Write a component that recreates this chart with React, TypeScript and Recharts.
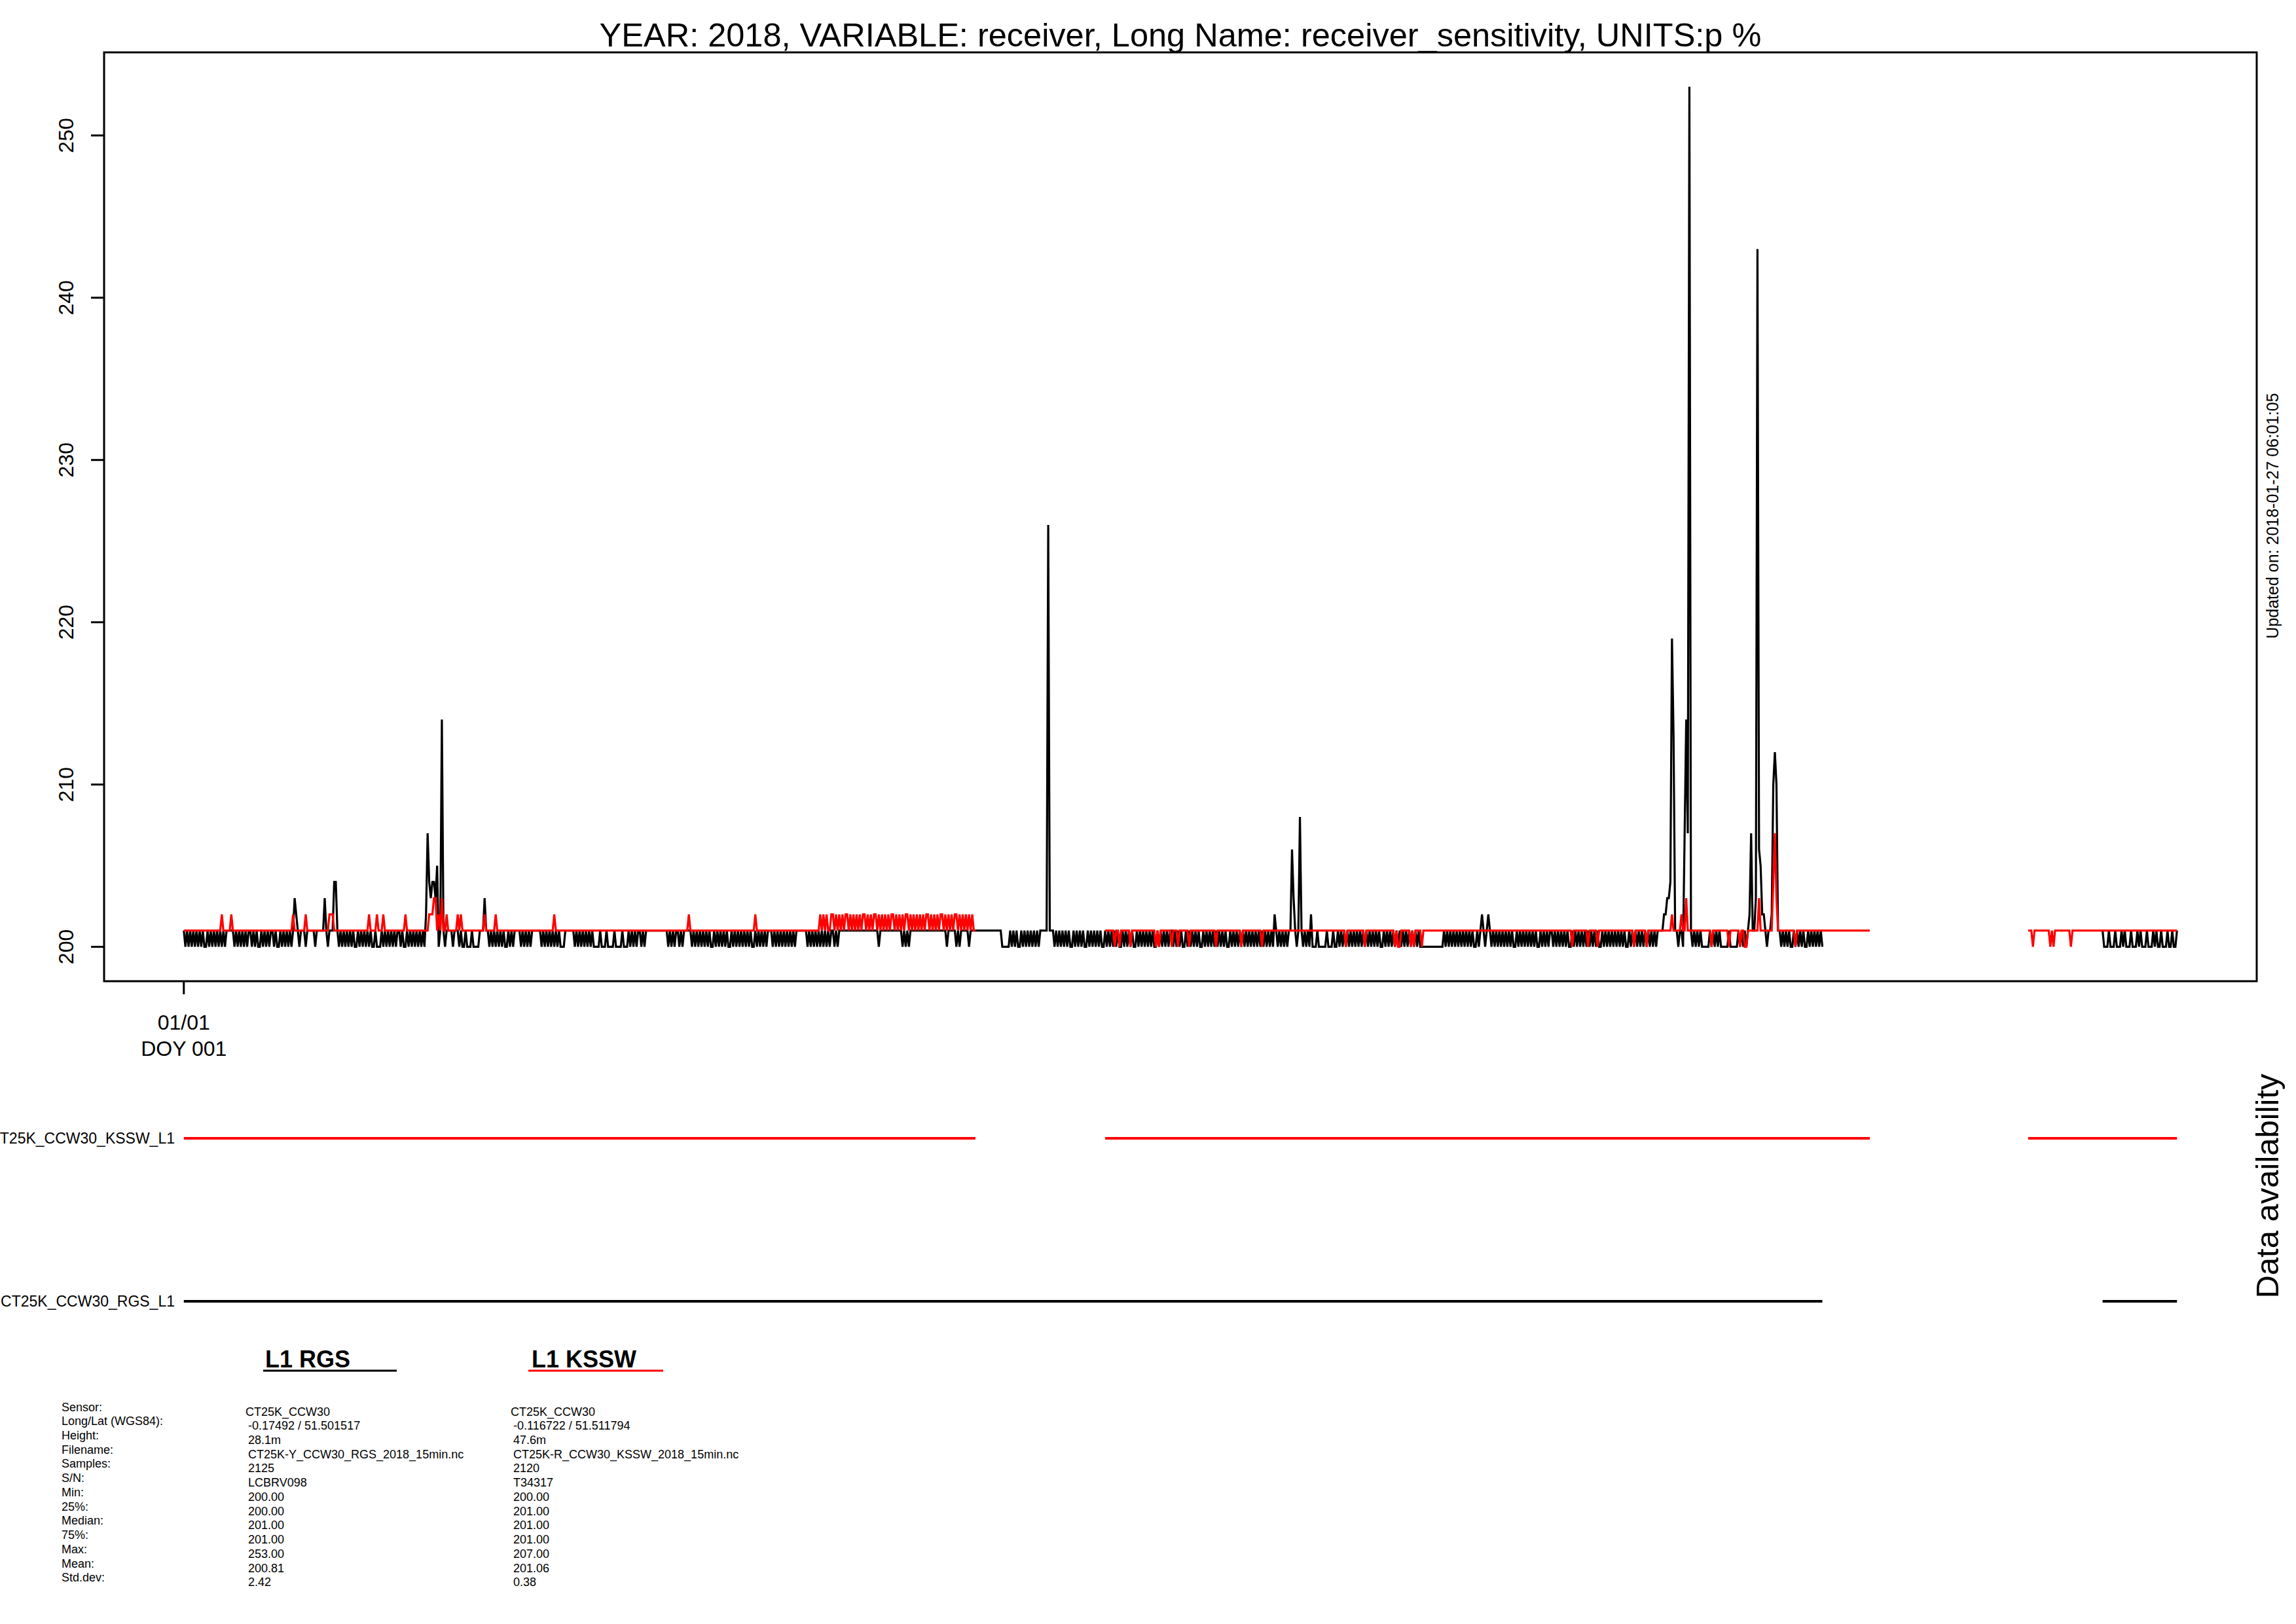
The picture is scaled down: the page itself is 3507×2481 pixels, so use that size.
import { Line, LineChart, ReferenceArea, XAxis, YAxis } from "recharts";

const FONT = "'Liberation Sans', Arial, Helvetica, sans-serif";
const SLOTS_PER_DAY = 48;

// half-hourly readings, one string per day from 01/01.
// digit = value - 200, (nn) = 200 + nn, "." = no data
const rgsDays = [
	"10101010 10101001 01010101 01011111 01010101 01101010",
	"01010101 10100101 01010132 10111011 11101111 13101114",
	"41010101 01010010 10101010 01000101 01010101 10100101",
	"01010101 02743443 501(14)1011 11011101 00100010 00011131",
	"10101010 10100101 01111010 10101111 11010101 01010100",
	"01111110 10101010 10100001 00010000 10000100 01010101",
	"10101111 11111111 11010101 10101111 10101010 10101001",
	"01010101 00101010 10101010 01010101 01110101 01010101",
	"01011111 11010101 01010101 01101011 11111111 11111111",
	"11111110 11111111 11111101 01011111 11111111 11111111",
	"11011111 01011111 01111111 11111111 11111000 00101010",
	"01010101 01010111 11(26)11101 01010101 00101010 10010101",
	"01010010 10101010 01010101 00101010 10101001 01010101",
	"10101010 01010101 01001010 10101010 10100101 01010101",
	"01010101 01010101 02101010 10116310 18101010 20001000",
	"00100010 01010101 01010101 01010101 01010010 10101010",
	"10101010 10101000 00000000 00001010 10101010 10101010",
	"01012101 21010101 01010101 00101010 10101010 01010101",
	"10101010 10100101 01010101 01010100 10101010 10101010",
	"01010101 01010101 01011112 2334(19)(13)11 01107(14)7(53) 10101010",
	"00001010 10100000 10000010 10101271 13(43)65221 0112(10)(12)(10)1",
	"10101010 01010101 00101010 1010.... ........ ........",
	"........ ........ ........ ........ ........ ........",
	"........ ........ ........ ........ ........ ........",
	"........ ........ ........ ........ ........ ........",
	"........ ....1000 10001000 10100010 00101000 10001010",
	"01000100 1001",
];

const ksswDays = [
	"11111111 11111111 11111111 21111121 11111111 11111111",
	"11111111 11111111 11111211 11111211 11111111 11112221",
	"11111111 11111111 11111211 11211121 11111111 11112111",
	"11111111 11122233 12131121 11111212 11111111 11111121",
	"11111211 11111111 11111111 11111111 11111111 11211111",
	"11111111 11111111 11111111 11111111 11111111 11111111",
	"11111111 11111111 11111111 11111112 11111111 11111111",
	"11111111 11111111 11111111 12111111 11111111 11111111",
	"11111111 11111111 11212121 12212121 21221212 12121221",
	"21212212 12121212 21212121 22121212 12121221 21212122",
	"12121212 21212121 21211... ........ ........ ........",
	"........ ........ ........ ........ ........ ........",
	"......11 11110110 11111101 11111111 11111101 01111111",
	"01110111 11101111 11111111 11110111 11111111 11110111",
	"11111111 10111111 11111111 11111111 11111111 11111111",
	"11111111 11111101 11111111 11011111 11111111 11111010",
	"01111110 10111101 11111111 11111111 11111111 11111111",
	"11111111 11111111 11111111 11111111 11111111 11111111",
	"11111111 11111011 11111110 11111011 11111111 11111111",
	"11110111 11110111 11111111 11112111 11211311 11111111",
	"11111011 11111111 01111110 11001111 11131111 11114731",
	"11111111 11011111 11111111 11111111 11111111 11111111",
	"11111111 11...... ........ ........ ........ ........",
	"........ ........ ........ ........ ........ ........",
	"........ .....111 01111111 11101011 11111111 01111111",
	"11111111 11111111 11111111 11111111 11111111 11111111",
	"11111111 1111",
];

const yTicks = [200, 210, 220, 230, 240, 250];
const xTicks = [0];
const xTickLabels = ["01/01", "DOY 001"];

const statLabels = [
	"Sensor:",
	"Long/Lat (WGS84):",
	"Height:",
	"Filename:",
	"Samples:",
	"S/N:",
	"Min:",
	"25%:",
	"Median:",
	"75%:",
	"Max:",
	"Mean:",
	"Std.dev:",
];
const rgsStats = [
	"CT25K_CCW30",
	"-0.17492 / 51.501517",
	"28.1m",
	"CT25K-Y_CCW30_RGS_2018_15min.nc",
	"2125",
	"LCBRV098",
	"200.00",
	"200.00",
	"201.00",
	"201.00",
	"253.00",
	"200.81",
	"2.42",
];
const ksswStats = [
	"CT25K_CCW30",
	"-0.116722 / 51.511794",
	"47.6m",
	"CT25K-R_CCW30_KSSW_2018_15min.nc",
	"2120",
	"T34317",
	"200.00",
	"201.00",
	"201.00",
	"201.00",
	"207.00",
	"201.06",
	"0.38",
];

const readDay = (s: string): (number | null)[] =>
	(s.match(/\(\d+\)|[0-9.]/g) ?? []).map((tok) =>
		tok === "." ? null : 200 + Number(tok.replace(/[()]/g, "")),
	);

type Row = {
	t: number;
	rgs: number | null;
	kssw: number | null;
	rgsOn: number | null;
	ksswOn: number | null;
};

const rows: Row[] = [];
rgsDays.forEach((day, d) => {
	const a = readDay(day);
	const b = readDay(ksswDays[d] ?? "");
	const n = Math.max(a.length, b.length);
	for (let k = 0; k < n; k++) {
		const rgs = a[k] ?? null;
		const kssw = b[k] ?? null;
		rows.push({
			t: d + k / SLOTS_PER_DAY,
			rgs,
			kssw,
			rgsOn: rgs === null ? null : 0,
			ksswOn: kssw === null ? null : 1,
		});
	}
});

// R style 4% padding around the data range
const pad = (lo: number, hi: number): [number, number] => [
	lo - 0.04 * (hi - lo),
	hi + 0.04 * (hi - lo),
];
const allVals = rows
	.flatMap((r) => [r.rgs, r.kssw])
	.filter((v): v is number => v !== null);
const xDomain = pad(rows[0].t, rows[rows.length - 1].t);
const yDomain = pad(Math.min(...allVals), Math.max(...allVals));

// biome-ignore lint/suspicious/noExplicitAny: <recharts tick props>
const YTick = ({ x, y, payload }: any) => (
	<text
		x={x}
		y={y}
		transform={`rotate(-90, ${x}, ${y})`}
		textAnchor="middle"
		fontSize={32}
		fontFamily={FONT}
		fill="#000"
	>
		{payload.value}
	</text>
);

// biome-ignore lint/suspicious/noExplicitAny: <recharts tick props>
const XTick = ({ x, y }: any) => (
	<text textAnchor="middle" fontSize={32} fontFamily={FONT} fill="#000">
		<tspan x={x} y={y + 54}>
			{xTickLabels[0]}
		</tspan>
		<tspan x={x} y={y + 94}>
			{xTickLabels[1]}
		</tspan>
	</text>
);

const Overlay = () => (
	<svg
		width={3507}
		height={2481}
		style={{ position: "absolute", left: 0, top: 0, pointerEvents: "none" }}
		fontFamily={FONT}
	>
		<text x={1803} y={71} textAnchor="middle" fontSize={50.5}>
			YEAR: 2018, VARIABLE: receiver, Long Name: receiver_sensitivity,
			UNITS:p %
		</text>
		<text
			x={3480}
			y={788}
			textAnchor="middle"
			fontSize={25}
			transform="rotate(-90, 3480, 788)"
		>
			Updated on: 2018-01-27 06:01:05
		</text>
		<text
			x={3480}
			y={1812}
			textAnchor="middle"
			fontSize={49}
			transform="rotate(-90, 3480, 1812)"
		>
			Data availability
		</text>
		<text x={267} y={1747} textAnchor="end" fontSize={23}>
			CT25K_CCW30_KSSW_L1
		</text>
		<text x={267} y={1996} textAnchor="end" fontSize={23}>
			CT25K_CCW30_RGS_L1
		</text>

		<text x={405} y={2089} fontSize={36} fontWeight="bold">
			L1 RGS
		</text>
		<line x1={402} x2={606} y1={2094} y2={2094} stroke="#000" strokeWidth={3} />
		<text x={812} y={2089} fontSize={36} fontWeight="bold">
			L1 KSSW
		</text>
		<line
			x1={807}
			x2={1013}
			y1={2094}
			y2={2094}
			stroke="#ff0000"
			strokeWidth={3}
		/>

		{statLabels.map((s, i) => (
			<text key={s} x={94} y={2155.5 + 21.73 * i} fontSize={18}>
				{s}
			</text>
		))}
		{rgsStats.map((s, i) => (
			<text key={`r${i}`} x={i === 0 ? 375 : 379} y={2162.5 + 21.73 * i} fontSize={18}>
				{s}
			</text>
		))}
		{ksswStats.map((s, i) => (
			<text key={`k${i}`} x={i === 0 ? 780 : 784} y={2162.5 + 21.73 * i} fontSize={18}>
				{s}
			</text>
		))}
	</svg>
);

export default function App() {
	return (
		<div
			style={{
				position: "absolute",
				left: 0,
				top: 0,
				width: 3507,
				height: 2481,
				background: "#fff",
				overflow: "hidden",
			}}
		>
			<div style={{ position: "absolute", left: 0, top: 0 }}>
				<LineChart
					width={3507}
					height={1700}
					data={rows}
					margin={{ top: 80, right: 60, left: 0, bottom: 51 }}
				>
					<XAxis
						type="number"
						dataKey="t"
						domain={xDomain}
						allowDataOverflow
						ticks={xTicks}
						height={150}
						tickSize={20}
						tickMargin={0}
						axisLine={false}
						tickLine={{ stroke: "#000", strokeWidth: 3 }}
						tick={<XTick />}
						interval={0}
					/>
					<YAxis
						type="number"
						domain={yDomain}
						allowDataOverflow
						ticks={yTicks}
						width={159}
						tickSize={20}
						tickMargin={27}
						axisLine={false}
						tickLine={{ stroke: "#000", strokeWidth: 3 }}
						tick={<YTick />}
						interval={0}
					/>
					<Line
						type="linear"
						dataKey="rgs"
						stroke="#000"
						strokeWidth={3.2}
						dot={false}
						activeDot={false}
						connectNulls={false}
						isAnimationActive={false}
					/>
					<Line
						type="linear"
						dataKey="kssw"
						stroke="#ff0000"
						strokeWidth={3.2}
						dot={false}
						activeDot={false}
						connectNulls={false}
						isAnimationActive={false}
					/>
					<ReferenceArea
						x1={xDomain[0]}
						x2={xDomain[1]}
						y1={yDomain[0]}
						y2={yDomain[1]}
						fill="none"
						stroke="#000"
						strokeWidth={3}
						ifOverflow="visible"
					/>
				</LineChart>
			</div>
			<div style={{ position: "absolute", left: 0, top: 1700 }}>
				<LineChart
					width={3507}
					height={330}
					data={rows}
					margin={{ top: 39, right: 60, left: 159, bottom: 42 }}
				>
					<XAxis
						type="number"
						dataKey="t"
						domain={xDomain}
						allowDataOverflow
						hide
						height={0}
					/>
					<YAxis type="number" domain={[0, 1]} hide width={0} />
					<Line
						type="linear"
						dataKey="ksswOn"
						stroke="#ff0000"
						strokeWidth={4}
						dot={false}
						activeDot={false}
						connectNulls={false}
						isAnimationActive={false}
					/>
					<Line
						type="linear"
						dataKey="rgsOn"
						stroke="#000"
						strokeWidth={4}
						dot={false}
						activeDot={false}
						connectNulls={false}
						isAnimationActive={false}
					/>
				</LineChart>
			</div>
			<Overlay />
		</div>
	);
}
